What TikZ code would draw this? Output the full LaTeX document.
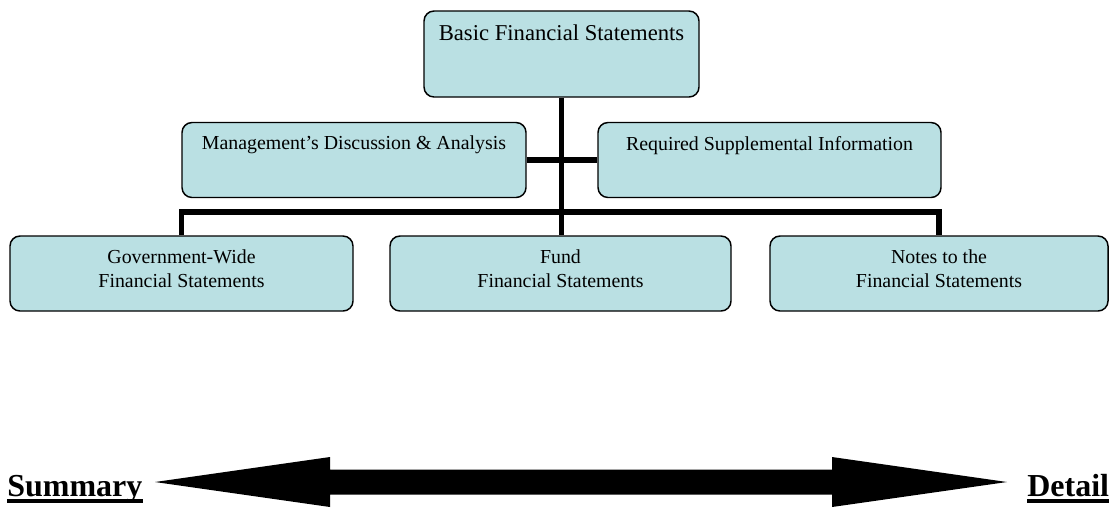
\documentclass[tikz,border=0pt]{standalone}
\usepackage{fontspec}
\setmainfont{Liberation Serif}
\definecolor{boxfill}{RGB}{186,224,227}
\begin{document}
\begin{tikzpicture}[x=0.75pt,y=-0.75pt,
  box/.style={draw=black, line width=1.1pt, fill=boxfill, rounded corners=7.5pt, inner sep=0pt},
  lbl/.style={font=\fontsize{14.9pt}{18pt}\selectfont, align=center, inner sep=0pt},
  toplbl/.style={lbl, font=\fontsize{17pt}{20pt}\selectfont},
  tree/.style={line width=3.8pt},
  endlbl/.style={font=\fontsize{24pt}{28pt}\selectfont\bfseries, inner sep=0pt, anchor=base west},
  uline/.style={line width=2.6pt}]
\useasboundingbox (0,0) rectangle (1109,508);
% boxes
\node[box, minimum width=206.25pt, minimum height=64.5pt] (top) at (561.5,54) {};
\node[box, minimum width=258pt, minimum height=56.25pt] (mda) at (354,160) {};
\node[box, minimum width=257.25pt, minimum height=56.25pt] (rsi) at (769.5,160) {};
\node[box, minimum width=257.25pt, minimum height=56.25pt] (gov) at (181.5,273.5) {};
\node[box, minimum width=255.75pt, minimum height=56.25pt] (fund) at (560.5,273.5) {};
\node[box, minimum width=253.5pt, minimum height=56.25pt] (notes) at (939,273.5) {};
% texts
\node[toplbl] (toptext) at ([yshift=-17pt]top.north) {Basic Financial Statements};
\node[lbl] (mdatext) at ([yshift=-17.3pt]mda.north) {Management’s Discussion \& Analysis};
\node[lbl] (rsitext) at ([yshift=-18pt]rsi.north) {Required Supplemental Information};
\node[lbl] (govtext) at ([yshift=3.6pt]gov.center) {Government-Wide\\Financial Statements};
\node[lbl] (fundtext) at ([yshift=3.6pt]fund.center) {Fund\\Financial Statements};
\node[lbl] (notestext) at ([yshift=3.6pt]notes.center) {Notes to the\\Financial Statements};
% connectors
\coordinate (bus) at (561.5,212);
\draw[tree] (top.south) -- (top.south |- fund.north);
\draw[tree] (gov.north) |- (bus) -| (notes.north);
\draw[tree] (mda.east) -- (rsi.west);
% double arrow
\fill[black] (155,482) -- (330,457) -- (330,469.5) -- (832,469.5) -- (832,457) -- (1007,482)
  -- (832,507) -- (832,494.5) -- (330,494.5) -- (330,507) -- cycle;
% end labels
\node[endlbl] (summary) at (7,496) {Summary};
\draw[uline] ([yshift=-3.75pt]summary.base west) -- ([yshift=-3.75pt]summary.base east);
\node[endlbl] (detail) at (1027,496) {Detail};
\draw[uline] ([yshift=-3.75pt]detail.base west) -- ([yshift=-3.75pt]detail.base east);
\end{tikzpicture}
\end{document}
